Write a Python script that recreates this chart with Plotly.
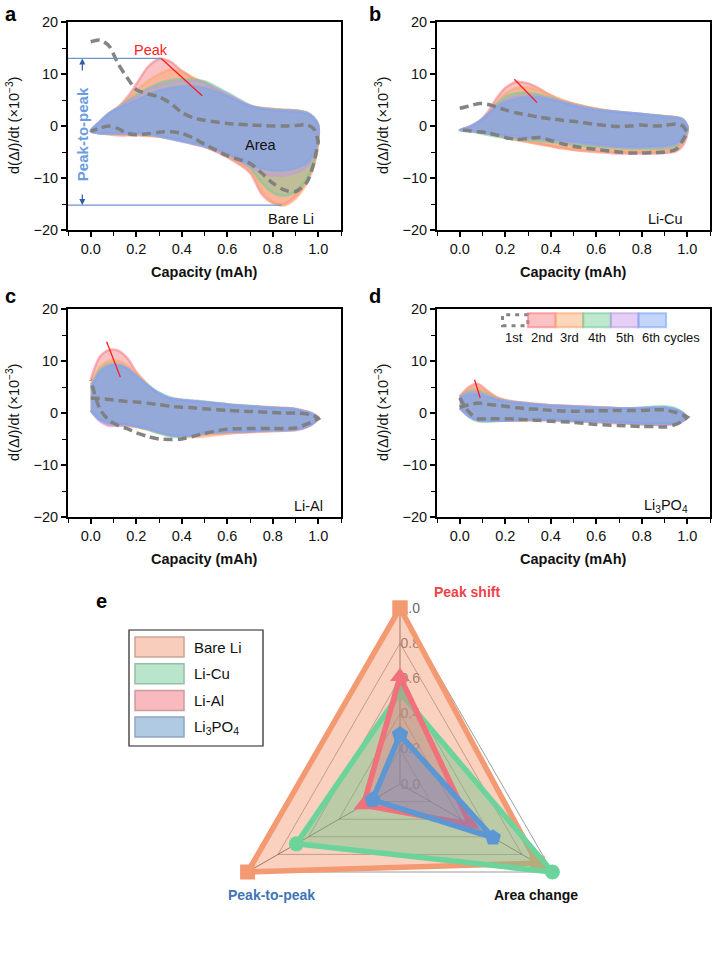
import plotly.graph_objects as go

W, H = 712, 960
FONT = "Liberation Sans, Arial, Helvetica, sans-serif"

# ---------------- data: panels a-d (dI/dt loops, x10^-3) ----------------
CAPACITY = [0.0, 0.04, 0.08, 0.12, 0.16, 0.2, 0.25, 0.3, 0.35, 0.4, 0.45,
            0.5, 0.6, 0.7, 0.75, 0.8, 0.85, 0.9, 0.95, 0.98, 1.0]
CYCLES = ["1st", "2nd", "3rd", "4th", "5th", "6th"]

BARE_LI_UP = {
    "1st": [16.2, 16.5, 15.4, 12.0, 9.3, 7.0, 6.2, 5.6, 4.4, 2.6, 1.6, 1.1, 0.5, 0.2, 0.1, 0.0, 0.0, 0.1, 0.2, -0.5, -3.0],
    "2nd": [-1.0, 0.8, 2.4, 3.6, 5.5, 8.0, 11.3, 12.9, 12.4, 10.6, 9.2, 8.4, 5.8, 3.8, 3.5, 3.3, 3.1, 3.0, 2.5, 1.5, 0.2],
    "3rd": [-1.0, 0.8, 2.4, 3.5, 5.0, 6.8, 8.6, 10.0, 10.8, 10.5, 9.3, 8.3, 5.9, 3.9, 3.4, 3.2, 3.1, 3.0, 2.5, 1.6, 0.1],
    "4th": [-1.0, 0.8, 2.4, 3.5, 4.8, 6.0, 7.2, 8.2, 8.8, 9.0, 8.9, 8.6, 6.4, 4.0, 3.4, 3.2, 3.1, 3.0, 2.6, 1.6, 0.1],
    "5th": [-1.0, 0.8, 2.4, 3.5, 4.6, 5.6, 6.9, 7.8, 8.3, 8.6, 8.6, 8.2, 6.2, 3.9, 3.3, 3.1, 3.0, 2.9, 2.5, 1.6, 0.1],
    "6th": [-1.0, 0.8, 2.4, 3.4, 4.2, 5.0, 6.1, 6.9, 7.4, 7.7, 7.7, 7.4, 5.8, 3.8, 3.3, 3.0, 2.9, 2.7, 2.4, 1.6, 0.0],
}
BARE_LI_LO = {
    "1st": [-1.0, -0.4, 0.0, -0.5, -1.4, -1.7, -1.5, -1.2, -1.1, -1.4, -2.3, -3.5, -5.7, -7.2, -9.0, -11.0, -12.3, -12.6, -10.8, -7.2, -3.0],
    "2nd": [-1.0, -1.4, -1.6, -1.8, -1.8, -1.8, -1.9, -2.0, -2.3, -2.8, -3.4, -4.0, -6.0, -9.0, -13.0, -14.8, -15.0, -13.5, -10.5, -7.5, -3.0],
    "3rd": [-1.0, -1.4, -1.5, -1.6, -1.6, -1.6, -1.8, -2.0, -2.3, -2.8, -3.3, -3.9, -5.8, -8.5, -12.3, -14.6, -15.3, -14.0, -11.0, -7.8, -3.2],
    "4th": [-1.0, -1.4, -1.5, -1.5, -1.5, -1.5, -1.7, -2.0, -2.4, -2.9, -3.4, -3.9, -5.5, -8.0, -10.8, -12.8, -13.4, -12.6, -10.0, -6.8, -2.5],
    "5th": [-1.0, -1.4, -1.4, -1.4, -1.4, -1.4, -1.6, -2.0, -2.5, -3.0, -3.5, -4.0, -5.4, -7.8, -9.0, -9.5, -9.5, -9.0, -7.8, -5.5, -1.8],
    "6th": [-1.0, -1.4, -1.4, -1.4, -1.3, -1.3, -1.5, -1.9, -2.4, -2.9, -3.3, -3.8, -5.2, -7.4, -8.2, -8.6, -8.6, -8.2, -7.2, -5.0, -1.5],
}

LI_CU_UP = {
    "1st": [3.4, 3.8, 4.3, 4.2, 3.7, 3.1, 2.5, 2.1, 1.7, 1.4, 1.1, 0.9, 0.3, -0.1, 0.0, 0.2, 0.0, 0.1, 0.4, 0.0, -1.2],
    "2nd": [-0.8, -0.2, 0.7, 2.5, 5.2, 7.3, 8.5, 8.2, 7.2, 5.9, 4.9, 4.3, 3.3, 2.6, 2.4, 2.2, 2.0, 1.9, 1.7, 1.3, 0.0],
    "3rd": [-0.8, -0.2, 0.7, 2.1, 4.3, 6.2, 7.3, 7.4, 6.8, 5.9, 5.0, 4.3, 3.3, 2.7, 2.5, 2.3, 2.1, 1.9, 1.7, 1.3, 0.0],
    "4th": [-0.8, -0.2, 0.7, 2.1, 4.0, 5.6, 6.3, 6.4, 6.0, 5.4, 4.7, 4.1, 3.2, 2.7, 2.5, 2.3, 2.1, 1.9, 1.7, 1.3, 0.0],
    "5th": [-0.8, -0.2, 0.7, 2.1, 3.7, 5.0, 5.7, 5.9, 5.7, 5.2, 4.6, 4.0, 3.1, 2.7, 2.5, 2.3, 2.0, 1.8, 1.6, 1.2, 0.0],
    "6th": [-0.8, -0.2, 0.7, 2.1, 3.6, 4.6, 5.3, 5.6, 5.5, 5.1, 4.5, 3.9, 3.1, 2.7, 2.5, 2.3, 2.0, 1.8, 1.6, 1.2, 0.0],
}
LI_CU_LO = {
    "1st": [-0.8, -0.9, -1.1, -1.3, -1.7, -2.2, -2.6, -2.4, -2.2, -2.8, -3.4, -3.9, -4.5, -5.0, -5.2, -5.2, -5.1, -5.0, -4.5, -2.8, -1.2],
    "2nd": [-0.8, -0.9, -1.1, -1.4, -1.8, -2.2, -2.7, -3.1, -3.5, -3.9, -4.3, -4.6, -5.0, -5.3, -5.3, -5.3, -5.3, -5.2, -4.9, -3.8, -1.5],
    "3rd": [-0.8, -0.9, -1.1, -1.4, -1.8, -2.2, -2.6, -3.0, -3.4, -3.8, -4.2, -4.5, -4.8, -5.0, -5.0, -5.0, -5.0, -4.8, -4.4, -3.2, -1.2],
    "4th": [-0.8, -1.0, -1.3, -1.7, -2.0, -2.3, -2.5, -2.7, -2.9, -3.1, -3.3, -3.6, -4.0, -4.3, -4.4, -4.4, -4.4, -4.3, -3.9, -2.8, -1.0],
    "5th": [-0.8, -0.9, -1.1, -1.4, -1.7, -1.9, -2.1, -2.3, -2.5, -2.7, -2.9, -3.1, -3.6, -4.0, -4.1, -4.1, -4.0, -3.9, -3.5, -2.4, -0.9],
    "6th": [-0.8, -0.9, -1.1, -1.4, -1.6, -1.8, -2.0, -2.2, -2.4, -2.6, -2.8, -3.0, -3.5, -3.9, -4.0, -4.0, -3.9, -3.8, -3.3, -2.2, -0.8],
}

LI_AL_UP = {
    "1st": [2.9, 2.8, 2.6, 2.4, 2.2, 2.1, 1.9, 1.6, 1.3, 1.1, 1.0, 0.8, 0.5, 0.3, 0.2, 0.1, 0.0, 0.0, -0.2, -0.5, -1.1],
    "2nd": [6.4, 10.8, 12.1, 12.0, 10.6, 7.9, 5.5, 3.6, 2.8, 2.4, 2.2, 2.0, 1.7, 1.3, 1.2, 1.1, 1.0, 0.8, 0.3, -0.2, -0.8],
    "3rd": [5.5, 8.8, 10.0, 10.0, 9.2, 7.5, 5.3, 3.6, 2.8, 2.4, 2.2, 2.0, 1.6, 1.3, 1.1, 1.0, 0.9, 0.7, 0.2, -0.3, -0.9],
    "4th": [5.0, 8.3, 9.4, 9.4, 8.6, 7.2, 5.4, 3.9, 3.0, 2.6, 2.4, 2.2, 1.7, 1.4, 1.2, 1.0, 0.9, 0.7, 0.2, -0.3, -0.9],
    "5th": [4.8, 7.9, 9.1, 9.2, 8.5, 7.0, 5.1, 3.7, 2.8, 2.5, 2.3, 2.1, 1.6, 1.3, 1.1, 1.0, 0.9, 0.7, 0.2, -0.3, -0.9],
    "6th": [4.5, 7.8, 9.0, 9.2, 8.6, 7.1, 5.3, 3.9, 2.8, 2.5, 2.3, 2.1, 1.6, 1.3, 1.1, 1.0, 0.9, 0.7, 0.2, -0.3, -0.9],
}
LI_AL_LO = {
    "1st": [6.4, 0.8, -1.4, -2.4, -3.0, -3.8, -4.5, -5.0, -5.1, -5.0, -4.5, -3.9, -3.1, -3.0, -3.0, -3.0, -3.0, -2.9, -2.1, -1.6, -1.1],
    "2nd": [0.5, -1.4, -2.2, -2.4, -2.5, -2.7, -3.2, -3.8, -4.3, -4.5, -4.4, -4.1, -3.9, -3.7, -3.6, -3.5, -3.4, -3.3, -2.7, -2.0, -0.9],
    "3rd": [0.5, -1.2, -2.0, -2.1, -2.3, -2.6, -3.0, -3.6, -4.2, -4.5, -4.6, -4.5, -4.0, -3.6, -3.5, -3.4, -3.3, -3.2, -2.6, -1.9, -0.9],
    "4th": [0.5, -1.2, -1.9, -2.0, -2.2, -2.6, -3.2, -3.9, -4.5, -4.6, -4.3, -3.9, -3.6, -3.5, -3.4, -3.3, -3.3, -3.2, -2.6, -1.9, -0.9],
    "5th": [0.5, -1.6, -2.5, -2.4, -2.3, -2.5, -3.0, -3.6, -4.1, -4.3, -4.2, -3.9, -3.6, -3.5, -3.4, -3.3, -3.3, -3.2, -2.6, -1.9, -0.9],
    "6th": [0.5, -1.3, -1.9, -2.0, -2.2, -2.5, -3.0, -3.7, -4.3, -4.4, -4.3, -3.9, -3.6, -3.5, -3.4, -3.3, -3.3, -3.2, -2.6, -1.9, -0.9],
}

LI3PO4_UP = {
    "1st": [1.1, 1.6, 1.9, 1.7, 1.5, 1.3, 1.0, 0.8, 0.7, 0.5, 0.4, 0.35, 0.4, 0.5, 0.5, 0.5, 0.6, 0.6, 0.1, -0.4, -0.8],
    "2nd": [3.2, 5.0, 5.6, 4.3, 3.1, 2.5, 2.1, 1.9, 1.7, 1.5, 1.4, 1.3, 1.1, 0.9, 0.8, 0.8, 0.9, 1.0, 0.6, 0.0, -0.8],
    "3rd": [3.1, 4.6, 5.0, 4.0, 3.0, 2.4, 2.1, 1.9, 1.7, 1.5, 1.4, 1.3, 1.1, 0.9, 0.8, 0.9, 1.0, 1.0, 0.6, 0.0, -0.8],
    "4th": [3.0, 4.2, 4.3, 3.6, 2.8, 2.3, 2.0, 1.8, 1.6, 1.4, 1.3, 1.2, 1.0, 0.9, 0.9, 1.0, 1.2, 1.3, 0.9, 0.1, -0.8],
    "5th": [2.9, 3.9, 4.0, 3.3, 2.7, 2.3, 2.0, 1.8, 1.6, 1.5, 1.4, 1.3, 1.1, 0.9, 0.9, 0.9, 1.0, 1.0, 0.6, 0.0, -0.8],
    "6th": [2.9, 3.6, 3.6, 3.1, 2.6, 2.2, 2.0, 1.8, 1.6, 1.4, 1.3, 1.2, 1.0, 0.9, 0.9, 1.0, 1.1, 1.1, 0.7, 0.0, -0.8],
}
LI3PO4_LO = {
    "1st": [2.9, 0.2, -1.1, -1.1, -1.1, -1.1, -1.2, -1.3, -1.4, -1.6, -1.7, -1.8, -2.2, -2.4, -2.5, -2.6, -2.6, -2.7, -2.2, -1.5, -0.8],
    "2nd": [1.0, -0.6, -1.3, -1.4, -1.5, -1.5, -1.5, -1.4, -1.4, -1.4, -1.5, -1.6, -1.8, -2.0, -2.1, -2.2, -2.3, -2.3, -2.1, -1.6, -0.8],
    "3rd": [1.0, -0.6, -1.4, -1.5, -1.5, -1.5, -1.4, -1.4, -1.4, -1.4, -1.5, -1.6, -1.7, -1.9, -2.0, -2.1, -2.2, -2.2, -2.0, -1.5, -0.8],
    "4th": [1.0, -0.7, -1.6, -1.7, -1.6, -1.5, -1.4, -1.3, -1.3, -1.3, -1.4, -1.5, -1.6, -1.8, -1.9, -2.0, -2.0, -2.0, -1.9, -1.4, -0.8],
    "5th": [1.0, -0.6, -1.4, -1.5, -1.5, -1.5, -1.4, -1.3, -1.3, -1.3, -1.4, -1.5, -1.6, -1.8, -1.9, -2.0, -2.1, -2.1, -2.0, -1.5, -0.8],
    "6th": [1.0, -0.6, -1.4, -1.5, -1.5, -1.5, -1.4, -1.3, -1.3, -1.3, -1.4, -1.5, -1.6, -1.8, -1.9, -2.0, -2.1, -2.1, -2.0, -1.5, -0.8],
}

# peak shift markers (2nd-cycle peak -> 6th-cycle peak)
PEAK_X = {"a": [0.31, 0.49], "b": [0.24, 0.34], "c": [0.07, 0.13], "d": [0.065, 0.09]}
PEAK_Y = {"a": [13.0, 5.8], "b": [9.0, 4.5], "c": [13.7, 6.9], "d": [6.4, 2.9]}
# peak-to-peak levels in panel a: (capacity, value)
P2P_CAP = [0.31, 0.84]
P2P_VAL = [13.0, -15.2]

# ---------------- data: panel e (radar) ----------------
METRICS = ["Peak shift", "Area change", "Peak-to-peak"]
ELECTRODES = ["Bare Li", "Li-Cu", "Li-Al", "Li<sub>3</sub>PO<sub>4</sub>"]
BARE_LI_SCORE = [1.0, 0.9, 1.0]
LI_CU_SCORE = [0.52, 1.0, 0.68]
LI_AL_SCORE = [0.61, 0.46, 0.24]
LI3PO4_SCORE = [0.28, 0.61, 0.18]
RADAR_TICKS = [0.0, 0.2, 0.4, 0.6, 0.8, 1.0]
AXIS_EXTENT = [1.2, 1.12, 1.12]

# ---------------- styles ----------------
CYC_RGB = {"2nd": (244, 120, 125), "3rd": (250, 165, 105), "4th": (110, 205, 150),
           "5th": (195, 150, 230), "6th": (122, 164, 244)}
CYC_ALPHA = {"2nd": 0.45, "3rd": 0.45, "4th": 0.42, "5th": 0.3, "6th": 0.62}
DASH_COLOR = "rgba(125,125,125,0.95)"

RADAR_LINE = ["#F39A72", "#6CD49B", "#F07179", "#5C97D3"]
RADAR_FILL = ["rgba(243,150,112,0.45)", "rgba(100,195,135,0.42)",
              "rgba(240,110,125,0.35)", "rgba(90,125,200,0.35)"]
RADAR_SYMBOL = ["square", "circle", "triangle-up", "pentagon"]
LEG_FILL = ["rgb(248,205,187)", "rgb(184,229,203)", "rgb(248,186,190)", "rgb(176,202,228)"]
LEG_EDGE = ["rgb(205,165,150)", "rgb(150,190,165)", "rgb(205,155,160)", "rgb(145,165,195)"]


def rgba(rgb, a):
    return "rgba(%d,%d,%d,%.2f)" % (rgb[0], rgb[1], rgb[2], a)


def px_x(p):
    return p / W


def px_y(p):
    return 1 - p / H


fig = go.Figure()

PANELS = [
    ("a", "", BARE_LI_UP, BARE_LI_LO, "Bare Li", (68, 341), (22, 230), 0.88),
    ("b", "2", LI_CU_UP, LI_CU_LO, "Li-Cu", (437, 710), (22, 230), 0.905),
    ("c", "3", LI_AL_UP, LI_AL_LO, "Li-Al", (68, 341), (309, 517), 0.955),
    ("d", "4", LI3PO4_UP, LI3PO4_LO, "Li<sub>3</sub>PO<sub>4</sub>", (437, 710), (309, 517), 0.905),
]

loop_x = CAPACITY + CAPACITY[::-1]
annotations = []
shapes = []
TICKFONT = dict(size=14.5, color="#111", family=FONT)

for key, sfx, UP, LO, name, (xl, xr), (yt, yb), name_x in PANELS:
    xa, ya = "x" + sfx, "y" + sfx
    for cyc in CYCLES[1:]:
        edge_a = 0.55 if cyc != "6th" else 0.45
        fig.add_trace(go.Scatter(
            x=loop_x, y=UP[cyc] + LO[cyc][::-1], xaxis=xa, yaxis=ya,
            mode="lines", fill="toself", fillcolor=rgba(CYC_RGB[cyc], CYC_ALPHA[cyc]),
            line=dict(color=rgba(CYC_RGB[cyc], edge_a), width=2.5, shape="spline", smoothing=0.8),
            showlegend=False, hoverinfo="skip"))
    fig.add_trace(go.Scatter(
        x=loop_x, y=UP["1st"] + LO["1st"][::-1], xaxis=xa, yaxis=ya,
        mode="lines", line=dict(color=DASH_COLOR, width=3.5, dash="9px,5px",
                                shape="spline", smoothing=0.8),
        showlegend=False, hoverinfo="skip"))
    fig.add_trace(go.Scatter(
        x=PEAK_X[key], y=PEAK_Y[key], xaxis=xa, yaxis=ya, mode="lines",
        line=dict(color="#FF1A1A", width=1.3), showlegend=False, hoverinfo="skip"))

    fig.update_layout(**{
        ("xaxis" + sfx): dict(
            domain=[px_x(xl), px_x(xr)], anchor=ya, range=[-0.1, 1.1], automargin=False,
            tickvals=[0, 0.2, 0.4, 0.6, 0.8, 1.0], tickformat=".1f",
            ticks="outside", ticklen=5, tickwidth=1.5, tickcolor="black",
            minor=dict(dtick=0.1, tick0=0, ticks="outside", ticklen=4, tickwidth=1.2, tickcolor="black"),
            showline=True, linewidth=2, linecolor="black", mirror=True,
            showgrid=False, zeroline=False, tickfont=TICKFONT),
        ("yaxis" + sfx): dict(
            domain=[px_y(yb), px_y(yt)], anchor=xa, range=[-20, 20], automargin=False,
            tickvals=[-20, -10, 0, 10, 20],
            ticks="outside", ticklen=5, tickwidth=1.5, tickcolor="black",
            minor=dict(dtick=5, tick0=0, ticks="outside", ticklen=4, tickwidth=1.2, tickcolor="black"),
            showline=True, linewidth=2, linecolor="black", mirror=True,
            showgrid=False, zeroline=False, tickfont=TICKFONT),
    })
    # axis titles
    annotations.append(dict(x=px_x((xl + xr) / 2), y=px_y(yb + 42), xref="paper", yref="paper",
                            text="<b>Capacity (mAh)</b>", showarrow=False, xanchor="center", yanchor="middle",
                            font=dict(size=14.5, color="#111", family=FONT)))
    annotations.append(dict(x=px_x(xl - 55), y=px_y((yt + yb) / 2), xref="paper", yref="paper",
                            text="d(Δ<i>I</i>)/dt (×10<sup>−3</sup>)", textangle=-90, showarrow=False,
                            xanchor="center", yanchor="middle",
                            font=dict(size=14.5, color="#111", family=FONT)))
    # material label
    annotations.append(dict(x=name_x, y=-17.9, xref=xa, yref=ya, text=name,
                            showarrow=False, font=dict(size=14.5, color="#111", family=FONT)))
    # panel letter
    annotations.append(dict(x=px_x(xl - 65 if key in "ac" else xl - 70), y=px_y(yt - 8 if key in "ab" else yt - 13),
                            xref="paper", yref="paper", text="<b>%s</b>" % key, showarrow=False,
                            xanchor="left", yanchor="middle",
                            font=dict(size=20, color="black", family=FONT)))

# panel a extra annotations: peak-to-peak guide lines
for cap, val in zip(P2P_CAP, P2P_VAL):
    fig.add_trace(go.Scatter(x=[-0.1, cap], y=[val, val], xaxis="x", yaxis="y", mode="lines",
                             line=dict(color="#6F95C8", width=1.2), showlegend=False, hoverinfo="skip"))
annotations += [
    dict(x=-0.037, y=P2P_VAL[0], ax=-0.037, ay=10.4, xref="x", yref="y", axref="x", ayref="y",
         text="", showarrow=True, arrowhead=2, arrowsize=1, arrowwidth=1.2, arrowcolor="#2F5E9E"),
    dict(x=-0.037, y=P2P_VAL[1], ax=-0.037, ay=-12.9, xref="x", yref="y", axref="x", ayref="y",
         text="", showarrow=True, arrowhead=2, arrowsize=1, arrowwidth=1.2, arrowcolor="#2F5E9E"),
    dict(x=-0.037, y=-1.5, xref="x", yref="y", text="<b>Peak-to-peak</b>", textangle=-90, showarrow=False,
         font=dict(size=15, color="#6C9BE0", family=FONT)),
    dict(x=0.265, y=14.6, xref="x", yref="y", text="Peak", showarrow=False,
         font=dict(size=14.5, color="#FF2020", family=FONT)),
    dict(x=0.75, y=-3.6, xref="x", yref="y", text="Area", showarrow=False,
         font=dict(size=14.5, color="#111", family=FONT)),
]

# panel d cycle legend
SW_LEFT, SW_W, SW_Y0, SW_Y1 = 0.178, 0.1215, 16.5, 19.2
for i, cyc in enumerate(CYCLES):
    x0 = SW_LEFT + i * SW_W
    if cyc == "1st":
        shapes.append(dict(type="rect", xref="x4", yref="y4", x0=x0 + 0.01, x1=x0 + SW_W, y0=SW_Y0 + 0.3, y1=SW_Y1 - 0.3,
                           line=dict(color=DASH_COLOR, width=3, dash="4px,5px"), fillcolor="rgba(0,0,0,0)"))
    else:
        shapes.append(dict(type="rect", xref="x4", yref="y4", x0=x0, x1=x0 + SW_W, y0=SW_Y0, y1=SW_Y1,
                           line=dict(color=rgba(CYC_RGB[cyc], 0.6), width=2),
                           fillcolor=rgba(CYC_RGB[cyc], 0.45)))
    label = cyc + (" cycles" if cyc == "6th" else "")
    annotations.append(dict(x=x0 + SW_W / 2, y=14.6, xref="x4", yref="y4", text=label, showarrow=False,
                            xanchor="center" if cyc != "6th" else "left",
                            xshift=0 if cyc != "6th" else -12,
                            font=dict(size=13, color="#111", family=FONT)))

# ---------------- panel e: radar ----------------
theta_closed = METRICS + [METRICS[0]]
for lev in RADAR_TICKS[1:]:
    fig.add_trace(go.Scatterpolar(r=[lev] * 4, theta=theta_closed, mode="lines",
                                  line=dict(color="rgba(90,90,90,0.75)", width=0.8),
                                  showlegend=False, hoverinfo="skip"))
for m, ext in zip(METRICS, AXIS_EXTENT):
    fig.add_trace(go.Scatterpolar(r=[0, ext], theta=[m, m], mode="lines",
                                  line=dict(color="rgba(40,40,40,0.85)", width=0.9),
                                  showlegend=False, hoverinfo="skip"))

for i, (name, vals) in enumerate(zip(ELECTRODES, [BARE_LI_SCORE, LI_CU_SCORE, LI_AL_SCORE, LI3PO4_SCORE])):
    fig.add_trace(go.Scatterpolar(
        r=vals + [vals[0]], theta=theta_closed, mode="lines+markers", fill="toself",
        fillcolor=RADAR_FILL[i], line=dict(color=RADAR_LINE[i], width=5.5),
        marker=dict(symbol=RADAR_SYMBOL[i], size=15 if i < 2 else 17, color=RADAR_LINE[i]),
        name=name, showlegend=False, cliponaxis=False, hoverinfo="skip"))

# polar circle: centre (400, 784) px, radius 176 px (r = 1.0 at the rim)
fig.update_layout(polar=dict(
    domain=dict(x=[px_x(224), px_x(576)], y=[px_y(960), px_y(608)]),
    bgcolor="rgba(0,0,0,0)",
    angularaxis=dict(direction="clockwise", rotation=90, showticklabels=False, ticks="",
                     showline=False, showgrid=False),
    radialaxis=dict(range=[0, 1.0], angle=90, tickangle=90, tickvals=RADAR_TICKS, tickformat=".1f",
                    tickprefix="\u2002", showline=False, showgrid=False, ticks="", layer="below traces",
                    tickfont=dict(size=14, color="#6a6a6a", family=FONT)),
))

annotations += [
    dict(x=px_x(467), y=px_y(592), xref="paper", yref="paper", text="<b>Peak shift</b>", showarrow=False,
         yanchor="middle", font=dict(size=14, color="#F0414B", family=FONT)),
    dict(x=px_x(226), y=px_y(895), xref="paper", yref="paper", text="<b>Peak-to-peak</b>", showarrow=False,
         yanchor="middle", font=dict(size=14, color="#3F74B5", family=FONT)),
    dict(x=px_x(580), y=px_y(895), xref="paper", yref="paper", text="<b>Area change</b>", showarrow=False,
         yanchor="middle", font=dict(size=14, color="#111", family=FONT)),
    dict(x=px_x(94), y=px_y(601), xref="paper", yref="paper", text="<b>e</b>", showarrow=False,
         xanchor="left", yanchor="middle", font=dict(size=20, color="black", family=FONT)),
]

# radar legend box
shapes.append(dict(type="rect", xref="paper", yref="paper", x0=px_x(129), x1=px_x(263),
                   y0=px_y(746), y1=px_y(630), line=dict(color="#222", width=1.2), fillcolor="white", layer="below"))
for i, name in enumerate(ELECTRODES):
    top = 637 + i * 26.7
    shapes.append(dict(type="rect", xref="paper", yref="paper", x0=px_x(135), x1=px_x(184),
                       y0=px_y(top + 20), y1=px_y(top), line=dict(color=LEG_EDGE[i], width=1.5),
                       fillcolor=LEG_FILL[i]))
    annotations.append(dict(x=px_x(192), y=px_y(top + 10), xref="paper", yref="paper", text=name,
                            showarrow=False, xanchor="left", yanchor="middle",
                            font=dict(size=15, color="#111", family=FONT)))

fig.update_layout(
    template="none",
    width=W, height=H, margin=dict(l=0, r=0, t=0, b=0, pad=0, autoexpand=False),
    paper_bgcolor="white", plot_bgcolor="white",
    font=dict(family=FONT, color="#111"),
    annotations=annotations, shapes=shapes, showlegend=False,
)

# the page's default 8px body margin would shift the 712x960 figure; remove it
fig.write_html("out.html", config={"displayModeBar": False},
               post_script="document.body.style.margin='0px';document.body.style.overflow='hidden';")
